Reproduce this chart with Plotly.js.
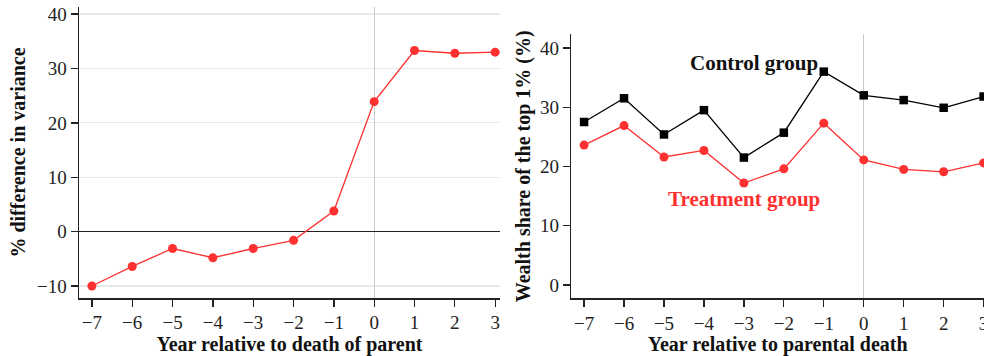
<!DOCTYPE html>
<html>
<head>
<meta charset="utf-8">
<script src="https://cdn.plot.ly/plotly-3.0.1.min.js"></script>
<style>html,body{margin:0;padding:0;background:#fff;}#chart{width:984px;height:356px;}</style>
</head>
<body>
<div id="chart"></div>
<script>
const years = [-7, -6, -5, -4, -3, -2, -1, 0, 1, 2, 3];
const varianceDiff = [-10.0, -6.4, -3.1, -4.8, -3.1, -1.6, 3.8, 23.9, 33.3, 32.8, 33.0];
const controlShare = [27.5, 31.5, 25.4, 29.5, 21.5, 25.7, 36.0, 32.0, 31.2, 29.9, 31.8];
const treatmentShare = [23.6, 26.9, 21.6, 22.7, 17.2, 19.6, 27.3, 21.1, 19.5, 19.1, 20.6];
const yTicksLeft = [-10, 0, 10, 20, 30, 40];
const yTicksRight = [0, 10, 20, 30, 40];
const yGridRight = [10, 20, 30, 40];
const xTickLabels = years.map(v => v < 0 ? '\u2212' + Math.abs(v) : String(v));

const RED = '#ff3030';
const FONT = "'Liberation Serif', 'Times New Roman', serif";

const traces = [
  {x: years, y: varianceDiff, xaxis: 'x', yaxis: 'y', mode: 'lines+markers',
   line: {color: RED, width: 1.3}, marker: {color: RED, size: 9, symbol: 'circle'},
   cliponaxis: false, showlegend: false},
  {x: years, y: controlShare, xaxis: 'x2', yaxis: 'y2', mode: 'lines+markers',
   line: {color: '#000', width: 1.3}, marker: {color: '#000', size: 8.5, symbol: 'square'},
   cliponaxis: false, showlegend: false},
  {x: years, y: treatmentShare, xaxis: 'x2', yaxis: 'y2', mode: 'lines+markers',
   line: {color: RED, width: 1.3}, marker: {color: RED, size: 9, symbol: 'circle'},
   cliponaxis: false, showlegend: false}
];

const xCommon = {
  tickmode: 'array', tickvals: years, ticktext: xTickLabels,
  ticks: 'outside', ticklen: 7, tickwidth: 1.3, tickcolor: '#222',
  showline: true, linecolor: '#222', linewidth: 1.5,
  showgrid: false, zeroline: true, zerolinecolor: '#cccccc', zerolinewidth: 1.2,
  tickfont: {family: FONT, size: 19, color: '#222'},
  ticklabeloverflow: 'allow',
  fixedrange: true
};
const yCommon = {
  ticks: 'outside', ticklen: 7, tickwidth: 1.3, tickcolor: '#222',
  showline: true, linecolor: '#222', linewidth: 1.5,
  gridcolor: '#e8e8e8', gridwidth: 1.2,
  tickfont: {family: FONT, size: 19, color: '#222'},
  fixedrange: true
};
const titleFont = {family: FONT, size: 20, color: '#111'};

const layout = {
  width: 984, height: 356,
  margin: {l: 0, r: 0, t: 0, b: 0},
  paper_bgcolor: '#fff', plot_bgcolor: '#fff',
  showlegend: false,
  font: {family: FONT},
  xaxis: Object.assign({}, xCommon, {
    domain: [79/984, 500/984], range: [-7.32, 3.12], anchor: 'y',
    title: {text: '<b>Year relative to death of parent</b>', font: titleFont, standoff: 3}
  }),
  yaxis: Object.assign({}, yCommon, {
    domain: [1 - 298/356, 1 - 7/356], range: [-12.2, 41.3], anchor: 'x',
    tickmode: 'array', tickvals: yTicksLeft, ticktext: yTicksLeft.map(v => v < 0 ? '\u2212' + Math.abs(v) : String(v)),
    showgrid: true,
    zeroline: true, zerolinecolor: '#222', zerolinewidth: 1.3,
    title: {text: '<b>% difference in variance</b>', font: titleFont, standoff: 6}
  }),
  xaxis2: Object.assign({}, xCommon, {
    domain: [571.3/984, 1], range: [-7.32, 3.01], anchor: 'y2',
    title: {text: '<b>Year relative to parental death</b>', font: titleFont, standoff: 3}
  }),
  yaxis2: Object.assign({}, yCommon, {
    domain: [1 - 298.3/356, 1 - 34.3/356], range: [-2.25, 42.3], anchor: 'x2',
    tickmode: 'array', tickvals: yTicksRight,
    showgrid: false, zeroline: false,
    title: {text: '<b>Wealth share of the top 1% (%)</b>', font: titleFont, standoff: 4}
  }),
  yaxis3: {
    overlaying: 'y2', matches: 'y2', anchor: 'x2', side: 'left',
    tickmode: 'array', tickvals: yGridRight, showticklabels: false, ticks: '',
    showline: false, showgrid: true, gridcolor: '#e8e8e8', gridwidth: 1.2, zeroline: false,
    fixedrange: true
  },
  annotations: [
    {text: '<b>Control group</b>', x: -2.74, y: 37.5, xref: 'x2', yref: 'y2', showarrow: false,
     font: {family: FONT, size: 21, color: '#111'}},
    {text: '<b>Treatment group</b>', x: -3.0, y: 14.5, xref: 'x2', yref: 'y2', showarrow: false,
     font: {family: FONT, size: 21, color: RED}}
  ]
};

Plotly.newPlot('chart', traces, layout, {displayModeBar: false, staticPlot: true});
</script>
</body>
</html>
